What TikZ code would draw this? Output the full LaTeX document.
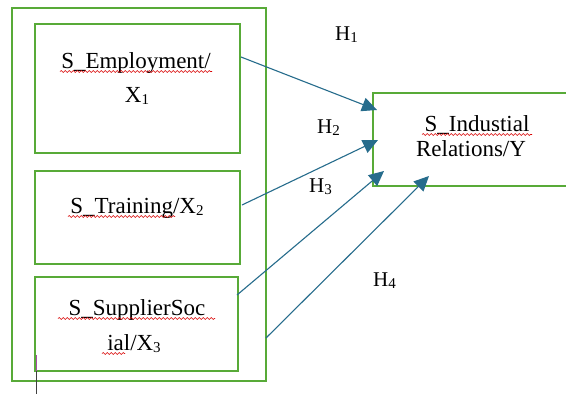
\documentclass[tikz,border=0pt]{standalone}
\usepackage{fontspec}
\setmainfont{Liberation Serif}
\usetikzlibrary{arrows.meta,decorations.pathmorphing}
\definecolor{boxgreen}{RGB}{88,170,56}
\definecolor{arrowblue}{RGB}{38,108,140}
\newcommand{\lowidx}[1]{\raisebox{-2.5pt}{\fontsize{15}{15}\selectfont #1}}
\tikzset{
  gbox/.style={draw=boxgreen, line width=2.4pt, rectangle, inner sep=0pt},
  lbl/.style={anchor=base, inner sep=0pt, font=\fontsize{23}{23}\selectfont},
  hlbl/.style={anchor=base west, inner sep=0pt, font=\fontsize{21}{21}\selectfont},
  link/.style={draw=arrowblue, line width=1.1pt, -{Triangle[length=15pt,width=14pt]}},
  spell/.style={draw=red!85!black, line width=0.6pt, decorate, decoration={snake, segment length=4pt, amplitude=0.9pt}}
}
\begin{document}
\begin{tikzpicture}[x=1pt,y=-1pt]
\useasboundingbox (0,0) rectangle (566,394);
\clip (0,0) rectangle (566,394);
\fill[white] (0,0) rectangle (566,394);
% boxes
\node[gbox, minimum width=254pt, minimum height=373pt] (outer) at (139,194.5) {};
\node[gbox, minimum width=205pt, minimum height=129pt] (b1) at (137.5,88.5) {};
\node[gbox, minimum width=205pt, minimum height=93pt] (b2) at (137.5,217.5) {};
\node[gbox, minimum width=203pt, minimum height=94pt] (b3) at (136.5,324) {};
\node[gbox, minimum width=220pt, minimum height=93pt] (y) at (483,139.5) {};
% texts
\node[lbl] (t1a) at (136,68) {S\_Employment/};
\node[lbl] (t1b) at (137,102) {X\lowidx{1}};
\node[lbl] (t2) at (137,213) {S\_Training/X\lowidx{2}};
\node[lbl] (t3a) at (137,315) {S\_SupplierSoc};
\node[lbl] (t3b) at (134,350) {ial/X\lowidx{3}};
\node[lbl] (tya) at (477,131) {S\_Industial};
\node[lbl] (tyb) at (471,156) {Relations/Y};
% spell-check underlines
\draw[spell] (60,71.5) -- (212,71.5);
\draw[spell] (68,216.5) -- (175,216.5);
\draw[spell] (58,318.5) -- (215,318.5);
\draw[spell] (102,353.5) -- (125,353.5);
\draw[spell] (422,134.5) -- (532,134.5);
% hypothesis labels
\node[hlbl] (h1) at (335,40) {H\lowidx{1}};
\node[hlbl] (h2) at (317,133) {H\lowidx{2}};
\node[hlbl] (h3) at (309,192) {H\lowidx{3}};
\node[hlbl] (h4) at (373,286) {H\lowidx{4}};
% connector end points
\coordinate (s1) at (241,57);
\coordinate (s2) at (242,205);
\coordinate (s3) at (237,295);
\coordinate (s4) at (266,338);
\coordinate (e1) at (377,110);
\coordinate (e2) at (378,140);
\coordinate (e3) at (384,171);
\coordinate (e4) at (429,176);
\draw[link] (s1) -- (e1);
\draw[link] (s2) -- (e2);
\draw[link] (s3) -- (e3);
\draw[link] (s4) -- (e4);
% cursor mark
\draw[violet!70, line width=0.8pt] (36,355) -- (36,371);
\draw[black!75, line width=0.8pt] (36,371) -- (36,394);
\end{tikzpicture}
\end{document}
